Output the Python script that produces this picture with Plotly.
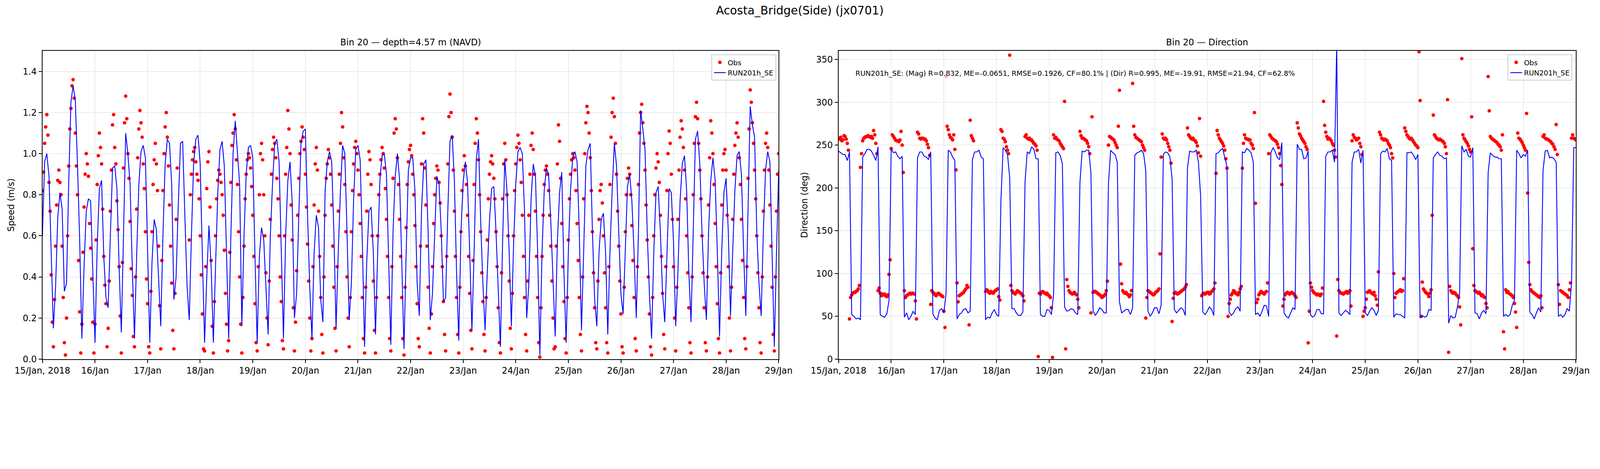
import pandas as pd
import plotly.graph_objects as go

# tick labels for the daily x ticks
day_labels = ["15/Jan, 2018", "16/Jan", "17/Jan", "18/Jan", "19/Jan", "20/Jan", "21/Jan",
              "22/Jan", "23/Jan", "24/Jan", "25/Jan", "26/Jan", "27/Jan", "28/Jan", "29/Jan"]

# model RUN201h_SE, hourly from 15/Jan 00:00 to 29/Jan 00:00
model_speed = [
    0.60, 0.96, 1.00, 0.89, 0.52, 0.15, 0.35, 0.69, 0.81, 0.73,
    0.33, 0.37, 0.86, 1.25, 1.33, 1.26, 0.95, 0.58, 0.10, 0.45,
    0.72, 0.78, 0.77, 0.44, 0.08, 0.55, 0.83, 0.87, 0.50, 0.30,
    0.25, 0.60, 0.93, 0.94, 0.83, 0.45, 0.13, 0.60, 1.10, 1.00,
    0.85, 0.45, 0.10, 0.50, 0.85, 1.01, 1.04, 0.98, 0.50, 0.08,
    0.47, 0.68, 0.63, 0.40, 0.16, 0.60, 0.95, 1.07, 1.05, 0.85,
    0.29, 0.40, 0.75, 1.05, 1.06, 0.70, 0.36, 0.19, 0.60, 0.95,
    1.07, 1.09, 0.95, 0.50, 0.08, 0.40, 0.65, 0.45, 0.08, 0.45,
    0.80, 1.02, 1.06, 0.94, 0.50, 0.10, 0.60, 1.00, 1.16, 1.00,
    0.85, 0.16, 0.60, 0.90, 1.03, 1.04, 0.98, 0.50, 0.08, 0.50,
    0.64, 0.58, 0.35, 0.12, 0.60, 0.85, 1.05, 1.07, 0.96, 0.50,
    0.10, 0.60, 0.87, 0.96, 0.76, 0.20, 0.32, 0.70, 1.05, 1.11,
    1.12, 0.70, 0.35, 0.10, 0.52, 0.70, 0.64, 0.29, 0.18, 0.82,
    0.96, 1.01, 0.96, 0.62, 0.15, 0.52, 0.82, 1.04, 1.00, 0.62,
    0.19, 0.37, 0.77, 1.02, 1.04, 0.97, 0.57, 0.06, 0.47, 0.72,
    0.74, 0.52, 0.12, 0.52, 0.87, 0.99, 1.00, 0.90, 0.47, 0.07,
    0.62, 0.89, 1.00, 0.87, 0.47, 0.05, 0.52, 0.92, 0.98, 0.98,
    0.82, 0.37, 0.21, 0.72, 0.95, 0.97, 0.62, 0.19, 0.32, 0.62,
    0.89, 0.85, 0.62, 0.28, 0.30, 0.72, 1.06, 1.09, 0.87, 0.42,
    0.09, 0.62, 0.86, 0.96, 0.86, 0.52, 0.14, 0.52, 0.97, 1.07,
    0.67, 0.37, 0.14, 0.42, 0.67, 0.83, 0.84, 0.62, 0.32, 0.06,
    0.57, 0.97, 0.82, 0.52, 0.16, 0.55, 0.85, 1.01, 1.03, 1.00,
    0.72, 0.20, 0.37, 0.78, 0.95, 0.89, 0.52, 0.02, 0.52, 0.82,
    0.93, 0.90, 0.67, 0.37, 0.11, 0.57, 0.81, 0.91, 0.42, 0.08,
    0.52, 0.82, 0.98, 1.01, 0.96, 0.62, 0.14, 0.52, 0.94, 1.02,
    1.05, 0.62, 0.29, 0.16, 0.52, 0.68, 0.71, 0.52, 0.12, 0.52,
    0.82, 1.05, 0.94, 0.62, 0.32, 0.22, 0.52, 0.84, 0.90, 0.77,
    0.52, 0.20, 0.62, 1.21, 1.12, 1.02, 0.62, 0.32, 0.10, 0.52,
    0.81, 0.84, 0.62, 0.32, 0.18, 0.52, 0.83, 0.81, 0.57, 0.16,
    0.42, 0.77, 0.95, 0.99, 0.82, 0.42, 0.18, 0.62, 1.07, 1.11,
    0.95, 0.62, 0.37, 0.19, 0.62, 0.87, 0.98, 0.87, 0.52, 0.11,
    0.52, 0.81, 0.88, 0.62, 0.21, 0.52, 0.82, 0.99, 1.01, 0.90,
    0.52, 0.21, 0.72, 1.23, 1.14, 1.08, 0.62, 0.37, 0.21, 0.62,
    0.92, 1.01, 0.96, 0.52, 0.06, 0.52, 0.92,
]

model_dir = [
    243, 241, 239, 239, 232, 242, 52, 50, 47, 48,
    46, 236, 240, 245, 245, 243, 238, 232, 248, 52,
    50, 49, 53, 68, 246, 241, 242, 237, 234, 237,
    49, 54, 46, 50, 56, 52, 235, 242, 242, 237,
    236, 233, 242, 53, 48, 46, 57, 59, 54, 77,
    244, 242, 236, 232, 47, 52, 54, 58, 59, 54,
    56, 233, 242, 242, 244, 236, 234, 46, 49, 48,
    54, 58, 52, 50, 185, 247, 244, 239, 212, 59,
    59, 54, 51, 51, 55, 208, 242, 240, 248, 245,
    234, 234, 52, 50, 50, 58, 57, 52, 76, 241,
    242, 238, 228, 61, 56, 57, 59, 58, 54, 52,
    206, 243, 242, 244, 244, 218, 56, 51, 55, 60,
    58, 54, 54, 205, 244, 241, 239, 230, 67, 54,
    56, 58, 58, 52, 60, 238, 241, 242, 244, 240,
    220, 56, 50, 54, 60, 60, 53, 63, 239, 242,
    241, 236, 210, 58, 54, 57, 60, 58, 51, 223,
    243, 242, 242, 244, 230, 190, 55, 52, 56, 61,
    58, 51, 240, 241, 244, 246, 236, 225, 55, 51,
    54, 59, 61, 56, 242, 241, 246, 244, 241, 230,
    52, 54, 50, 56, 63, 62, 50, 241, 247, 242,
    235, 233, 253, 54, 50, 48, 54, 60, 58, 251,
    245, 245, 234, 235, 243, 52, 49, 51, 58, 58,
    53, 53, 237, 242, 242, 244, 230, 368, 54, 51,
    54, 57, 55, 52, 230, 242, 242, 245, 229, 244,
    54, 51, 56, 60, 57, 51, 57, 240, 243, 242,
    246, 234, 232, 49, 53, 52, 52, 50, 48, 241,
    241, 242, 238, 233, 239, 48, 51, 49, 50, 58,
    57, 235, 239, 242, 238, 237, 234, 235, 42, 51,
    48, 49, 61, 77, 249, 242, 245, 237, 236, 247,
    54, 53, 47, 54, 57, 53, 218, 241, 238, 236,
    236, 234, 234, 50, 52, 50, 52, 63, 69, 244,
    240, 235, 239, 237, 244, 55, 52, 47, 54, 60,
    55, 220, 243, 244, 235, 236, 234, 230, 50, 52,
    49, 52, 59, 56, 89, 247, 247,
]

# observations every 30 min from 15/Jan 00:00, one row per tide phase (gap = None)
obs_speed = [
    0.82, 0.91, 1.05, 1.13, 1.19, 1.09, 0.86, 0.72, 0.41, 0.18,
    0.06, 0.29, 0.55, 0.75, 0.87, 0.92, 0.86, 0.80, 0.55, 0.30,
    0.08, 0.02, 0.20, 0.60, 0.94, 1.12, 1.22, 1.33, 1.36, 1.27, 1.10, 0.94, 0.80, 0.48, 0.23, 0.03,
    0.17, 0.52, 0.74, 0.90, 1.00, 0.95, 0.89, 0.66, 0.54, 0.39, 0.18, 0.03,
    0.17, 0.58, 0.85, 0.99, 1.10, 1.03, 0.95, 0.73, 0.50, 0.36, 0.27, 0.06,
    0.15, 0.38, 0.72, 0.92, 1.14, 1.19, 1.03, 0.95, 0.77, 0.63, 0.45, 0.21,
    0.03, 0.47, 0.93, 1.15, 1.28, 1.17, 1.00, 0.88, 0.67, 0.44, 0.31, 0.11,
    0.06, 0.40, 0.73, 0.98, 1.12, 1.21, 1.15, 1.08, 0.95, 0.83, 0.62, 0.39, 0.27, 0.06,
    0.03, 0.33, 0.62, 0.85, 0.97, 1.05, 0.95, 0.82, 0.55, 0.26,
    0.05, 0.48, 0.82, 1.00, 1.13, 1.20, 1.08, 0.94, 0.75, 0.55, 0.37, 0.14,
    0.05, 0.32, 0.68, 0.93, None, None, None, None, None, None, None, None, None, None,
    0.58, 0.80, 0.90, 0.97, 1.01, 1.03, 0.96, 0.90, 0.87, 0.78, 0.60, 0.41, 0.22, 0.05,
    0.04, 0.45, 0.83, 0.96, 1.01, 0.74, 0.48, 0.16,
    0.03, 0.28, 0.60, 0.78, 0.87, 0.92, 0.90, 0.86, 0.80, 0.70, 0.53, 0.32, 0.17, 0.04,
    0.09, 0.52, 0.86, 1.04, 1.10, 1.19, 1.12, 0.97, 0.85, 0.62, 0.40, 0.17,
    0.03, 0.30, 0.55, 0.78, 0.90, 0.97, 1.00, 0.98, 0.93, 0.84, 0.70, 0.50, 0.27, 0.08,
    0.04, 0.45, 0.80, 1.00, 1.05, 0.97, 0.80, 0.60, 0.42, 0.20,
    0.07, 0.38, 0.68, 0.90, 1.02, 1.08, 1.05, 0.98, 0.88, 0.78, 0.60, 0.40, 0.28, 0.09,
    0.05, 0.60, 0.90, 1.03, 1.21, 1.12, 1.00, 0.75, 0.58, 0.25,
    0.04, 0.18, 0.43, 0.70, 0.88, 1.00, 1.06, 1.13, 1.08, 1.02, 0.90, 0.74, 0.56, 0.38, 0.20, 0.04,
    0.10, 0.45, 0.75, 0.95, 1.03, 0.92, 0.72, 0.50, 0.30, 0.12,
    0.03, 0.40, 0.70, 0.88, 0.95, 1.02, 0.98, 0.90, 0.75, 0.55, 0.35, 0.15,
    0.04, 0.45, 0.72, 0.90, 1.05, 1.20, 1.13, 0.98, 0.85, 0.62, 0.40, 0.20,
    0.06, 0.30, 0.62, 0.82, 0.95, 1.03, 1.06, 1.00, 0.92, 0.80, 0.66, 0.50, 0.30, 0.10,
    0.03, 0.35, 0.72, 0.90, 1.01, 0.97, 0.85, 0.60, 0.38, 0.14,
    0.03, 0.30, 0.60, 0.80, 0.90, 0.97, 1.03, 1.00, 0.93, 0.83, 0.68, 0.50, 0.30, 0.10,
    0.04, 0.45, 0.88, 1.10, 1.17, 1.12, 0.98, 0.85, 0.68, 0.50, 0.30, 0.10,
    0.02, 0.35, 0.64, 0.85, 0.96, 1.02, 1.04, 0.99, 0.90, 0.80, 0.65, 0.45, 0.27, 0.10,
    0.06, 0.55, 0.95, 1.17, 1.10, 0.93, 0.75, 0.55, 0.35, 0.15,
    0.03, 0.22, 0.45, 0.66, 0.80, 0.88, 0.94, 0.92, 0.86, 0.76, 0.60, 0.45, 0.28, 0.12,
    0.04, 0.50, 0.95, 1.18, 1.29, 1.20, 1.08, 0.92, 0.72, 0.50, 0.30, 0.12,
    0.03, 0.35, 0.62, 0.82, 0.92, 0.99, 0.94, 0.85, 0.70, 0.50, 0.32, 0.14,
    0.05, 0.48, 0.85, 1.05, 1.17, 1.10, 0.97, 0.80, 0.62, 0.42, 0.28, 0.12,
    0.04, 0.30, 0.58, 0.78, 0.90, 0.96, 0.99, 0.95, 0.88, 0.78, 0.62, 0.45, 0.25, 0.08,
    0.03, 0.42, 0.78, 0.95, 1.05, 0.97, 0.80, 0.60, 0.38, 0.15,
    0.05, 0.32, 0.60, 0.82, 0.95, 1.03, 1.09, 1.05, 0.97, 0.86, 0.70, 0.50, 0.30, 0.12,
    0.04, 0.38, 0.70, 0.90, 1.04, 1.10, 1.02, 0.90, 0.72, 0.50, 0.30, 0.08,
    0.01, 0.25, 0.50, 0.70, 0.85, 0.92, 0.94, 0.90, 0.82, 0.70, 0.55, 0.38, 0.20, 0.05,
    0.06, 0.55, 0.95, 1.14, 1.06, 0.88, 0.66, 0.45, 0.28, 0.10,
    0.03, 0.30, 0.58, 0.78, 0.90, 0.97, 1.00, 0.98, 0.92, 0.82, 0.66, 0.48, 0.30, 0.12,
    0.04, 0.40, 0.78, 1.00, 1.15, 1.23, 1.20, 1.10, 0.98, 0.82, 0.62, 0.42, 0.25, 0.08,
    0.05, 0.38, 0.68, 0.82, 0.85, 0.76, 0.60, 0.42, 0.25, 0.08,
    0.03, 0.45, 0.85, 1.08, 1.20, 1.27, 1.18, 1.05, 0.90, 0.72, 0.55, 0.38, 0.22, 0.06,
    0.03, 0.35, 0.62, 0.80, 0.88, 0.93, 0.90, 0.80, 0.65, 0.48, 0.30, 0.10,
    0.04, 0.45, 0.85, 1.10, 1.20, 1.24, 1.15, 1.05, 0.92, 0.75, 0.58, 0.40, 0.22, 0.06,
    0.02, 0.30, 0.60, 0.80, 0.93, 1.00, 0.96, 0.86, 0.70, 0.50, 0.32, 0.12,
    0.05, 0.45, 0.82, 1.00, 1.11, 1.05, 0.90, 0.68, 0.45, 0.20,
    0.04, 0.35, 0.68, 0.92, 1.08, 1.16, 1.12, 1.03, 0.92, 0.78, 0.60, 0.42, 0.25, 0.08,
    0.03, 0.40, 0.80, 1.05, 1.18, 1.25, 1.17, 1.05, 0.92, 0.78, 0.60, 0.42, 0.25, 0.08,
    0.04, 0.40, 0.75, 0.98, 1.16, 1.10, 1.00, 0.85, 0.66, 0.45, 0.27, 0.10,
    0.03, 0.42, 0.75, 0.92, 1.00, 1.02, 0.92, 0.70, 0.45, 0.20,
    0.04, 0.35, 0.68, 0.90, 1.04, 1.10, 1.15, 1.08, 0.98, 0.85, 0.68, 0.48, 0.30, 0.10,
    0.05, 0.45, 0.88, 1.12, 1.31, 1.25, 1.15, 1.05, 0.92, 0.78, 0.60, 0.42, 0.25, 0.08,
    0.03, 0.40, 0.72, 0.92, 1.05, 1.10, 1.03, 0.92, 0.75, 0.55, 0.35, 0.12,
    0.04, 0.40, 0.72, 0.90, 1.00,
]

obs_dir = [
    258, 257, 259, 255, 256, 261, 260, 257, 252, 244,
    47, 72, 75, 77, 78, 78, 79, 80, 82, 86,
    224, 240, 255, 258, 259, 260, 260, 261, 260, 259, 260, 258, 267, 262, 252, 240,
    80, 83, 77, 74, 76, 75, 76, 74, 73, 75, 99, 116,
    246, 262, 260, 258, 256, 255, 255, 254, 256, 266, 250, 218,
    80, 72, 74, 75, 76, 77, 76, 77, 77, 76, 68, 47,
    265, 263, 258, 257, 258, 258, 257, 257, 255, 251, 247, 238,
    64, 80, 78, 77, 75, 74, 76, 77, 76, 75, 74, 73, 56, 37,
    330, 272, 268, 262, 259, 258, 256, 262, 245, 221,
    89, 67, 74, 75, 76, 77, 78, 80, 82, 86, 84, 40,
    279, 261, 258, 255, None, None, None, None, None, None, None, None, None, None,
    79, 81, 80, 78, 77, 79, 78, 77, 79, 80, 81, 82, 73, 69,
    268, 266, 258, 257, 254, 248, 244, 240,
    355, 86, 80, 78, 77, 76, 78, 80, 79, 78, 77, 76, 74, 68,
    260, 262, 258, 257, 258, 256, 256, 254, 252, 251, 249, 244,
    3, 77, 76, 78, 79, 78, 77, 76, 77, 75, 74, 72, 60, 2,
    262, 258, 259, 257, 256, 255, 252, 250, 248, 246,
    301, 12, 93, 85, 80, 78, 77, 76, 77, 78, 76, 75, 70, 60,
    266, 261, 258, 258, 257, 256, 255, 252, 248, 240,
    54, 283, 78, 79, 79, 78, 77, 76, 75, 74, 72, 73, 74, 76, 80, 91,
    250, 260, 259, 258, 257, 256, 253, 250, 247, 272,
    314, 111, 88, 80, 78, 77, 78, 76, 75, 73, 75, 80,
    322, 272, 262, 259, 258, 257, 256, 255, 254, 250, 247, 244,
    48, 72, 80, 79, 78, 77, 76, 75, 76, 78, 79, 80, 82, 123,
    236, 263, 258, 257, 258, 256, 252, 248, 244, 229,
    44, 71, 77, 78, 77, 76, 77, 78, 79, 80, 81, 82, 84, 87,
    270, 262, 260, 258, 257, 258, 256, 255, 253, 249, 241, 281,
    237, 74, 76, 77, 76, 77, 78, 78, 76, 77, 79, 80, 82, 89,
    217, 267, 262, 258, 256, 254, 252, 249, 244, 234,
    223, 50, 65, 70, 75, 77, 80, 79, 77, 76, 75, 78, 82, 85,
    223, 252, 262, 258, 257, 257, 256, 256, 252, 250, 246, 288,
    182, 66, 70, 75, 77, 79, 78, 77, 76, 78, 79, 89,
    240, 262, 260, 258, 257, 256, 255, 254, 251, 247, 240, 226,
    204, 62, 70, 75, 77, 78, 77, 76, 77, 78, 77, 76, 74, 72,
    276, 270, 263, 261, 258, 256, 254, 252, 248, 245,
    19, 56, 89, 84, 80, 78, 77, 76, 75, 76, 75, 74, 76, 83,
    301, 273, 265, 260, 257, 258, 257, 255, 252, 250, 244, 236,
    27, 93, 80, 78, 77, 77, 76, 77, 78, 79, 77, 78, 80, 62,
    255, 262, 259, 258, 256, 257, 258, 252, 248, 239,
    50, 56, 60, 70, 78, 79, 80, 78, 77, 76, 78, 74, 70, 63,
    102, 265, 262, 258, 257, 256, 257, 256, 255, 252, 250, 247, 240, 235,
    100, 72, 77, 78, 79, 80, 81, 79, 80, 94,
    270, 266, 262, 260, 258, 257, 258, 256, 254, 252, 250, 249, 247, 359,
    302, 50, 90, 82, 80, 78, 77, 76, 73, 77, 81, 168,
    285, 262, 260, 258, 257, 256, 257, 256, 255, 254, 252, 248, 240, 303,
    8, 85, 80, 78, 77, 78, 77, 75, 74, 72, 61, 40,
    351, 262, 258, 256, 254, 252, 249, 245, 242, 283,
    129, 86, 80, 79, 78, 77, 78, 76, 74, 75, 73, 72, 65, 60,
    330, 290, 260, 258, 257, 256, 255, 254, 253, 251, 250, 248, 244, 262,
    32, 12, 81, 78, 79, 77, 76, 75, 74, 72, 65, 55,
    37, 264, 258, 257, 255, 253, 250, 247, 244, 287,
    194, 113, 87, 81, 79, 78, 77, 76, 75, 74, 73, 72, 74, 60,
    260, 262, 258, 257, 257, 256, 255, 254, 252, 251, 248, 245, 274, 239,
    87, 64, 80, 79, 78, 77, 76, 75, 74, 72, 81, 89,
    258, 262, 258, 257, 256,
]

stats_text = ("RUN201h_SE: (Mag) R=0.832, ME=-0.0651, RMSE=0.1926, CF=80.1% | "
              "(Dir) R=0.995, ME=-19.91, RMSE=21.94, CF=62.8%")

assert len(model_speed) == 337 and len(model_dir) == 337, (len(model_speed), len(model_dir))
assert len(obs_speed) == 673 and len(obs_dir) == 673, (len(obs_speed), len(obs_dir))

model_time = pd.date_range("2018-01-15", periods=len(model_speed), freq="h")
obs_time = pd.date_range("2018-01-15", periods=len(obs_speed), freq="30min")
day_ticks = pd.date_range("2018-01-15", periods=len(day_labels), freq="D")

FONT = "DejaVu Sans"

# the page is photographed at ~1.221 device px per css px, with the usual 8px body margin,
# so the layout is worked out in screenshot pixels and converted here
DSF = 1.221
OFF = 8
W, H = 4078, 966


def fx(px):
    return (px / DSF - OFF) / W


def fy(py):
    return 1 - (py / DSF - OFF) / H


def sz(px):
    return px / DSF


left_dom = [fx(132.6), fx(2434)]
right_dom = [fx(2621), fx(4926)]
y_dom = [fy(1122), fy(159)]

fig = go.Figure()

# left panel: speed
fig.add_trace(go.Scatter(x=obs_time, y=obs_speed, mode="markers", name="Obs",
                         marker=dict(color="#ff0000", size=sz(11)),
                         xaxis="x", yaxis="y", legend="legend"))
fig.add_trace(go.Scatter(x=model_time, y=model_speed, mode="lines", name="RUN201h_SE",
                         line=dict(color="#0000ff", width=sz(2.7)),
                         xaxis="x", yaxis="y", legend="legend"))

# right panel: direction
fig.add_trace(go.Scatter(x=obs_time, y=obs_dir, mode="markers", name="Obs",
                         marker=dict(color="#ff0000", size=sz(11)),
                         xaxis="x2", yaxis="y2", legend="legend2"))
fig.add_trace(go.Scatter(x=model_time, y=model_dir, mode="lines", name="RUN201h_SE",
                         line=dict(color="#0000ff", width=sz(2.7)),
                         xaxis="x2", yaxis="y2", legend="legend2"))

axis_style = dict(showline=True, mirror=True, linecolor="black", linewidth=sz(2.2),
                  ticks="outside", ticklen=sz(10), tickwidth=sz(2), tickcolor="black",
                  showgrid=True, gridcolor="#ebebeb", gridwidth=sz(2), zeroline=False,
                  automargin=False,
                  tickfont=dict(family=FONT, size=sz(27.5), color="black"))

x_common = dict(axis_style, range=[day_ticks[0], day_ticks[-1]],
                tickvals=day_ticks, ticktext=day_labels)

legend_style = dict(y=fy(170), xanchor="right", yanchor="top",
                    bordercolor="#cccccc", borderwidth=sz(2.5),
                    bgcolor="rgba(255,255,255,0.8)",
                    font=dict(family=FONT, size=sz(22), color="black"))

fig.update_layout(
    width=W, height=H, autosize=False,
    margin=dict(l=0, r=0, t=0, b=0),
    paper_bgcolor="white", plot_bgcolor="white",
    font=dict(family=FONT, color="black"),
    xaxis=dict(x_common, domain=left_dom, anchor="y"),
    yaxis=dict(axis_style, domain=y_dom, anchor="x", range=[0, 1.5],
               tick0=0, dtick=0.2, tickformat=".1f",
               title=dict(text="Speed (m/s)", font=dict(family=FONT, size=sz(27.5)))),
    xaxis2=dict(x_common, domain=right_dom, anchor="y2"),
    yaxis2=dict(axis_style, domain=y_dom, anchor="x2", range=[0, 360],
                tick0=0, dtick=50,
                title=dict(text="Direction (deg)", font=dict(family=FONT, size=sz(27.5)))),
    legend=dict(legend_style, x=fx(2426)),
    legend2=dict(legend_style, x=fx(4915)),
    annotations=[
        dict(text="Acosta_Bridge(Side) (jx0701)", x=fx(2500), y=1.0, xref="paper", yref="paper",
             xanchor="center", yanchor="top", showarrow=False,
             font=dict(family=FONT, size=sz(36))),
        dict(text="Bin 20 — depth=4.57 m (NAVD)", x=sum(left_dom) / 2, y=fy(132),
             xref="paper", yref="paper", xanchor="center", yanchor="middle",
             showarrow=False, font=dict(family=FONT, size=sz(27.5))),
        dict(text="Bin 20 — Direction", x=sum(right_dom) / 2, y=fy(132),
             xref="paper", yref="paper", xanchor="center", yanchor="middle",
             showarrow=False, font=dict(family=FONT, size=sz(27.5))),
        dict(text=stats_text, x=fx(2668), y=fy(230), xref="paper", yref="paper",
             xanchor="left", yanchor="middle", showarrow=False,
             bgcolor="rgba(255,255,255,0.7)", borderpad=sz(5),
             font=dict(family=FONT, size=sz(22))),
    ],
)

fig.write_html("out.html")
